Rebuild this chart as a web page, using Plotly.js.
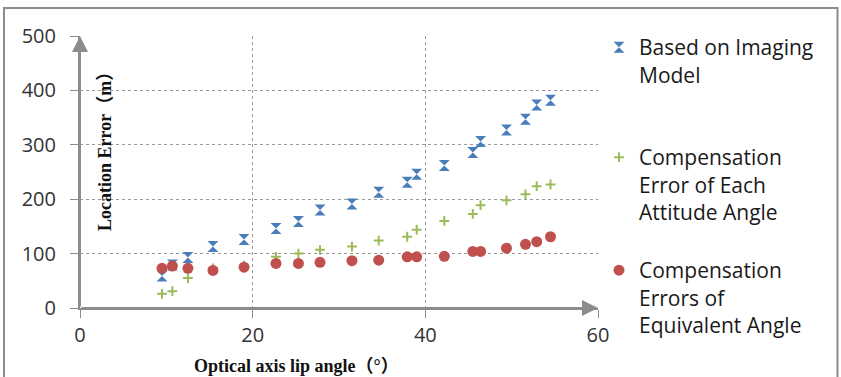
<!DOCTYPE html>
<html>
<head>
<meta charset="utf-8">
<script src="https://cdn.plot.ly/plotly-3.0.1.min.js"></script>
<style>
html,body{margin:0;padding:0;background:#fff;}
#chart{width:841px;height:377px;}
</style>
</head>
<body>
<div id="chart"></div>
<script>
// Data
const angleImaging = [9.5, 10.7, 12.5, 15.4, 19.0, 22.7, 25.3, 27.8, 31.5, 34.6, 37.9, 39.0, 42.2, 45.5, 46.4, 49.4, 51.6, 52.9, 54.5];
const errImaging   = [59, 79, 93, 113, 126, 146, 159, 180, 191, 213, 231, 246, 262, 286, 306, 327, 347, 373, 382];

const angleAttitude = [9.5, 10.7, 12.5, 15.4, 19.0, 22.7, 25.3, 27.8, 31.5, 34.6, 37.9, 39.0, 42.2, 45.5, 46.4, 49.4, 51.6, 52.9, 54.5];
const errAttitude   = [26, 31, 55, 73, 78, 94, 100, 107, 113, 124, 131, 144, 160, 173, 189, 198, 209, 224, 227];

const angleEquivalent = [9.5, 10.7, 12.5, 15.4, 19.0, 22.7, 25.3, 27.8, 31.5, 34.6, 37.9, 39.0, 42.2, 45.5, 46.4, 49.4, 51.6, 52.9, 54.5];
const errEquivalent   = [73, 77, 73, 69, 75, 82, 82, 84, 87, 88, 94, 94, 95, 104, 104, 110, 117, 122, 131];

const seriesNames = [
  "Based on Imaging<br>Model",
  "Compensation<br>Error of Each<br>Attitude Angle",
  "Compensation<br>Errors of<br>Equivalent Angle"
];
const xTicks = [0, 20, 40, 60];
const yTicks = [0, 100, 200, 300, 400, 500];
const xTitle = "Optical axis lip angle（°）";
const yTitle = "Location Error（m）";

const legendFont = {family: "Open Sans, Noto Sans, sans-serif", size: 21, color: "#1a1a1a"};
const titleFont = {family: "Liberation Serif, Times New Roman, Noto Sans CJK SC, serif", size: 18, color: "#111"};

const traces = [
  {x: angleImaging, y: errImaging, name: seriesNames[0], type: "scatter", mode: "markers", legend: "legend",
   marker: {symbol: "hourglass", size: 11, color: "#4A7EBB", line: {width: 0}}},
  {x: angleAttitude, y: errAttitude, name: seriesNames[1], type: "scatter", mode: "markers", legend: "legend2",
   marker: {symbol: "cross-thin-open", size: 7, color: "#9BBB59", line: {width: 2, color: "#9BBB59"}}},
  {x: angleEquivalent, y: errEquivalent, name: seriesNames[2], type: "scatter", mode: "markers", legend: "legend3",
   marker: {symbol: "circle", size: 11, color: "#C0504D", line: {width: 0}}}
];

const W = 518, H = 272, L = 80, T = 36;
function px2paperX(p){ return (p - L) / W; }
function px2paperY(p){ return (T + H - p) / H; }

const legendCommon = {font: legendFont, bgcolor: "rgba(0,0,0,0)", borderwidth: 0, valign: "top",
  xanchor: "left", yanchor: "top", itemsizing: "trace", tracegroupgap: 0};

const layout = {
  width: 841, height: 377,
  margin: {l: L, r: 841 - L - W, t: T, b: 377 - T - H, pad: 0},
  paper_bgcolor: "#fff", plot_bgcolor: "#fff",
  showlegend: true,
  legend:  Object.assign({x: px2paperX(599), y: px2paperY(27)}, legendCommon),
  legend2: Object.assign({x: px2paperX(599), y: px2paperY(137)}, legendCommon),
  legend3: Object.assign({x: px2paperX(599), y: px2paperY(250)}, legendCommon),
  xaxis: {
    range: [0, 60], tickvals: xTicks, ticktext: xTicks.map(String),
    showline: true, linecolor: "#8c8c8c", linewidth: 2,
    ticks: "outside", ticklen: 8, tickcolor: "#8c8c8c", tickwidth: 1,
    showgrid: true, gridcolor: "#999", griddash: "dot", gridwidth: 1,
    zeroline: false, ticklabelstandoff: 0,
    tickfont: {family: "Open Sans, sans-serif", size: 20, color: "#333"},
    fixedrange: true
  },
  yaxis: {
    range: [0, 500], tickvals: yTicks, ticktext: yTicks.map(String),
    showline: true, linecolor: "#8c8c8c", linewidth: 2,
    ticks: "outside", ticklen: 8, tickcolor: "#8c8c8c", tickwidth: 1,
    showgrid: true, gridcolor: "#999", griddash: "dot", gridwidth: 1,
    zeroline: false, ticklabelstandoff: 10,
    tickfont: {family: "Open Sans, sans-serif", size: 20, color: "#333"},
    fixedrange: true
  },
  annotations: [
    // axis arrows
    {x: 60, y: 0, ax: 0, ay: 0, xref: "x", yref: "y", axref: "x", ayref: "y", text: "",
     showarrow: true, arrowhead: 2, arrowsize: 1.6, arrowwidth: 2, arrowcolor: "#8c8c8c"},
    {x: 0, y: 500, ax: 0, ay: 0, xref: "x", yref: "y", axref: "x", ayref: "y", text: "",
     showarrow: true, arrowhead: 2, arrowsize: 1.6, arrowwidth: 2, arrowcolor: "#8c8c8c"},
    // axis titles
    {text: "<b>" + xTitle + "</b>", xref: "paper", yref: "paper", x: px2paperX(296), y: px2paperY(366),
     xanchor: "center", yanchor: "middle", showarrow: false, font: titleFont},
    {text: "<b>" + yTitle + "</b>", xref: "paper", yref: "paper", x: px2paperX(105), y: px2paperY(147),
     xanchor: "center", yanchor: "middle", showarrow: false, textangle: -90, font: titleFont}
  ],
  shapes: [
    {type: "rect", xref: "paper", yref: "paper",
     x0: px2paperX(4), x1: px2paperX(837.5), y0: px2paperY(395), y1: px2paperY(8),
     line: {color: "#8c8c8c", width: 2}, fillcolor: "rgba(0,0,0,0)", layer: "below"}
  ]
};

Plotly.newPlot("chart", traces, layout, {displayModeBar: false, staticPlot: true});
</script>
</body>
</html>
